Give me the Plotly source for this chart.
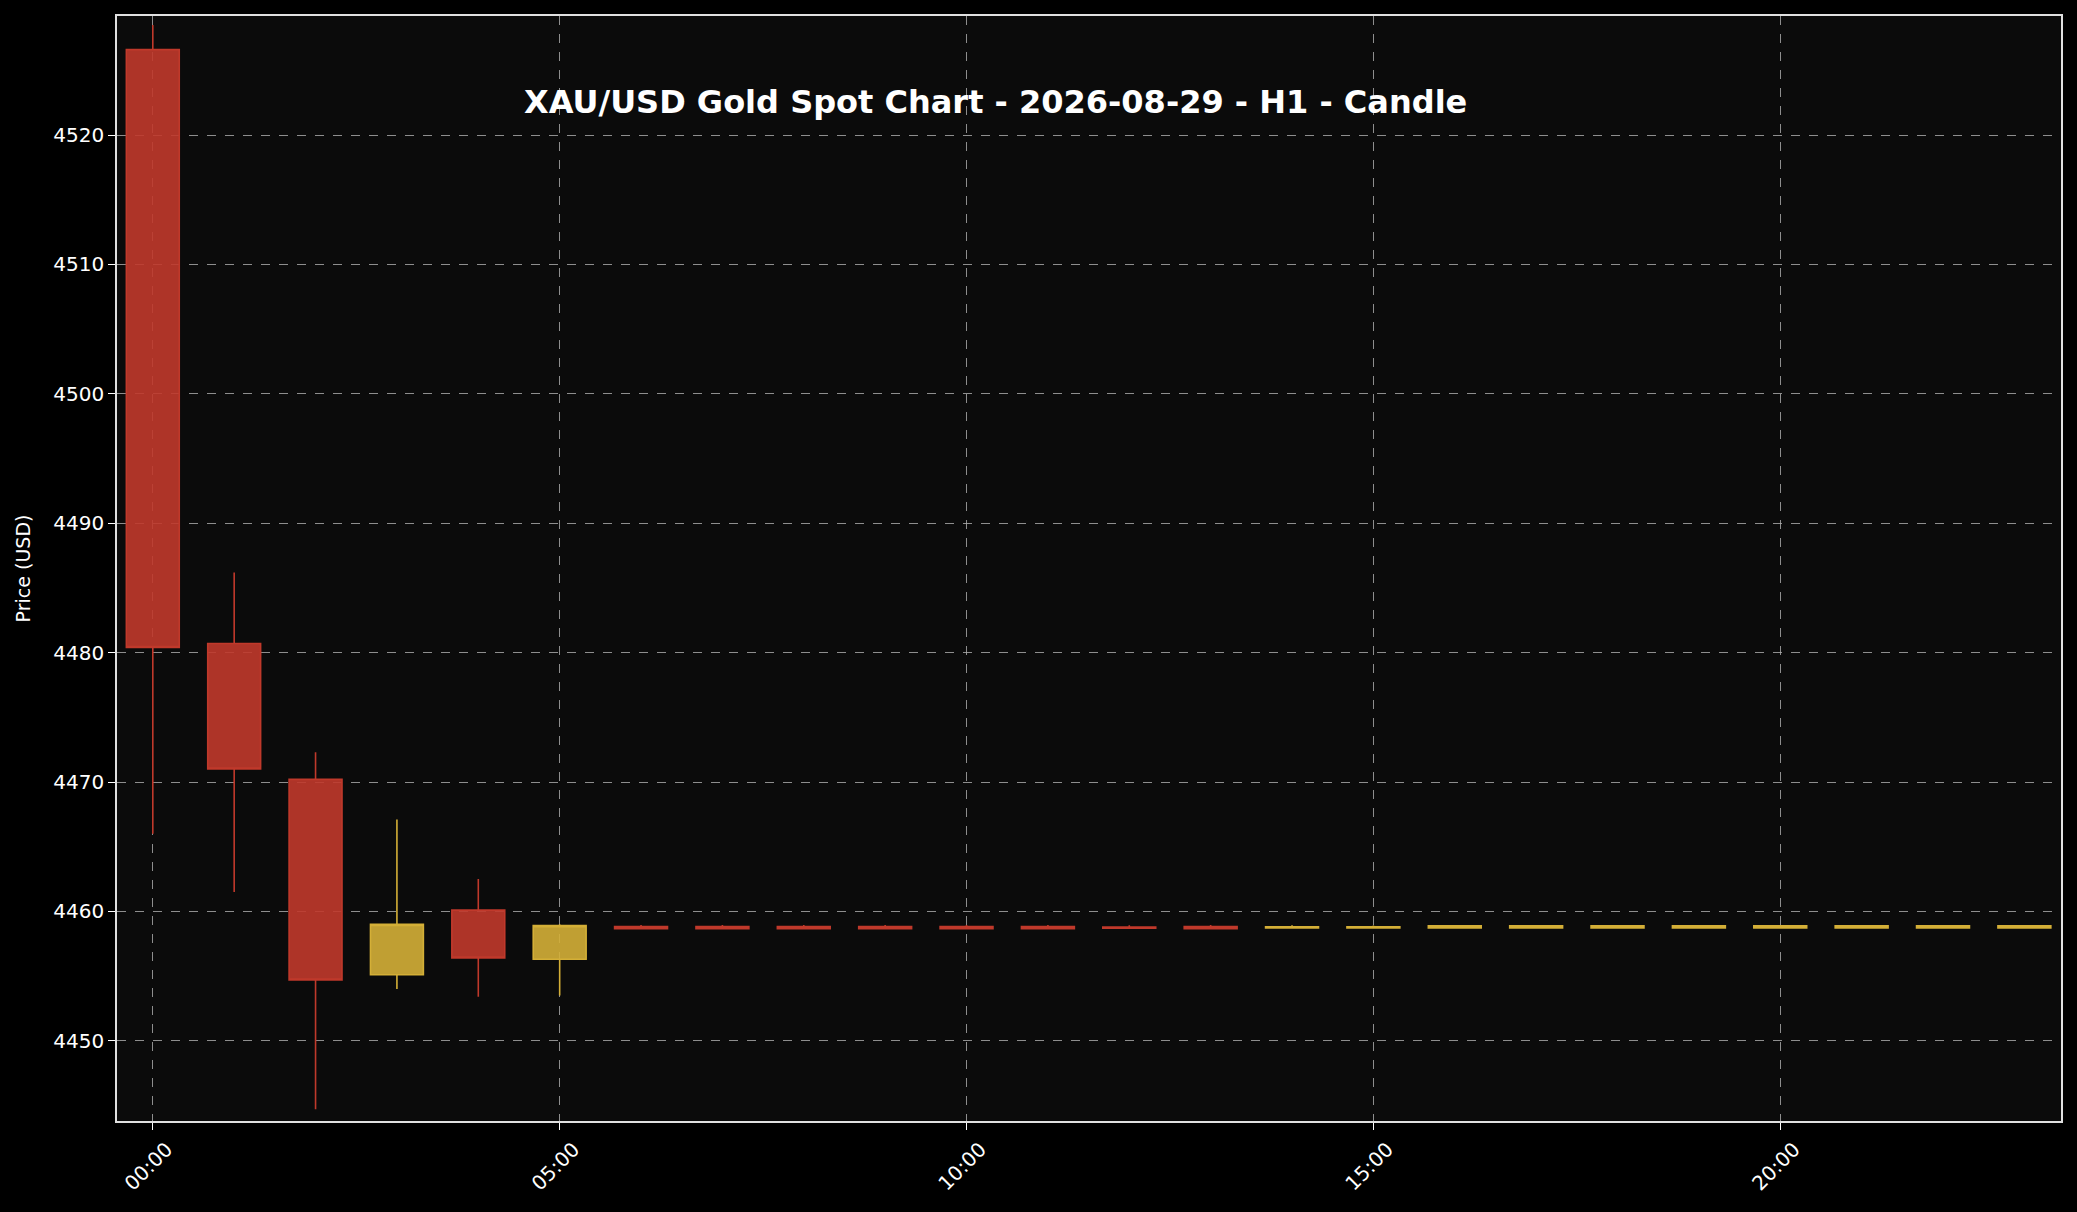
import plotly.graph_objects as go

# hourly candles for 2026-08-29 (H1)
hours = list(range(24))
times = ["2026-08-29 %02d:00" % h for h in hours]

opens = [4526.6, 4480.7, 4470.2, 4455.1, 4460.1, 4456.3,
         4458.82, 4458.82, 4458.82, 4458.82, 4458.82, 4458.82, 4458.78, 4458.82,
         4458.72, 4458.72, 4458.72, 4458.72, 4458.72, 4458.72, 4458.72, 4458.72, 4458.72, 4458.72]
highs = [4528.5, 4486.2, 4472.3, 4467.1, 4462.5, 4459.0,
         4458.95, 4458.95, 4458.95, 4458.95, 4458.95, 4458.95, 4458.93, 4458.95,
         4458.93, 4458.9, 4458.95, 4458.95, 4458.95, 4458.95, 4458.95, 4458.95, 4458.95, 4458.95]
lows = [4466.0, 4461.5, 4444.7, 4454.0, 4453.4, 4453.5,
        4458.64, 4458.64, 4458.64, 4458.64, 4458.64, 4458.64, 4458.68, 4458.64,
        4458.7, 4458.7, 4458.7, 4458.7, 4458.7, 4458.7, 4458.7, 4458.7, 4458.7, 4458.7]
closes = [4480.4, 4471.0, 4454.7, 4459.0, 4456.4, 4458.9,
          4458.66, 4458.66, 4458.66, 4458.66, 4458.66, 4458.66, 4458.7, 4458.66,
          4458.8, 4458.8, 4458.88, 4458.88, 4458.88, 4458.88, 4458.88, 4458.88, 4458.88, 4458.88]

tick_times = ["2026-08-29 00:00", "2026-08-29 05:00", "2026-08-29 10:00",
              "2026-08-29 15:00", "2026-08-29 20:00"]
tick_text = ["00:00", "05:00", "10:00", "15:00", "20:00"]
price_ticks = [4450, 4460, 4470, 4480, 4490, 4500, 4510, 4520]

up_col = "#d4af37"
down_col = "#c0392b"

fig = go.Figure(go.Candlestick(
    x=times, open=opens, high=highs, low=lows, close=closes,
    increasing=dict(line=dict(color=up_col, width=1.6), fillcolor="rgba(212,175,55,0.9)"),
    decreasing=dict(line=dict(color=down_col, width=1.6), fillcolor="rgba(192,57,43,0.9)"),
    whiskerwidth=0,
    showlegend=False,
))

axis_font = dict(family="DejaVu Sans", size=19, color="white")
tick_font = dict(family="DejaVu Sans", size=20, color="white")

fig.update_layout(
    width=2077, height=1212, autosize=False,
    margin=dict(l=117, r=16, t=16, b=91),
    paper_bgcolor="black",
    plot_bgcolor="#0b0b0b",
    boxgap=0.35, boxgroupgap=0,
    font=axis_font,
    annotations=[dict(
        text="<b>XAU/USD Gold Spot Chart - 2026-08-29 - H1 - Candle</b>",
        xref="paper", yref="paper", x=0.452, y=0.922,
        xanchor="center", yanchor="middle", showarrow=False,
        font=dict(family="DejaVu Sans", size=32, color="white"),
    )],
)

fig.update_xaxes(
    range=["2026-08-28 23:33:36", "2026-08-29 23:27:00"],
    rangeslider_visible=False,
    tickvals=tick_times, ticktext=tick_text, tickangle=-45, ticklabelshift=14,
    ticks="outside", ticklen=7, tickwidth=1.3, tickcolor="white",
    showgrid=True, gridcolor="rgba(175,175,175,0.8)", griddash="dash", gridwidth=1.3,
    showline=True, mirror=True, linecolor="#e0e0e0", linewidth=1.6,
    zeroline=False, tickfont=tick_font,
)
fig.update_yaxes(
    range=[4443.8, 4529.2],
    tickvals=price_ticks,
    ticks="outside", ticklen=7, tickwidth=1.3, tickcolor="white",
    showgrid=True, gridcolor="rgba(175,175,175,0.8)", griddash="dash", gridwidth=1.3,
    showline=True, mirror=True, linecolor="#e0e0e0", linewidth=1.6,
    zeroline=False, tickfont=tick_font,
    title=dict(text="Price (USD)", font=axis_font, standoff=18),
)

fig.write_html("out.html", config={"displayModeBar": False},
               post_script="document.body.style.margin='0';")
